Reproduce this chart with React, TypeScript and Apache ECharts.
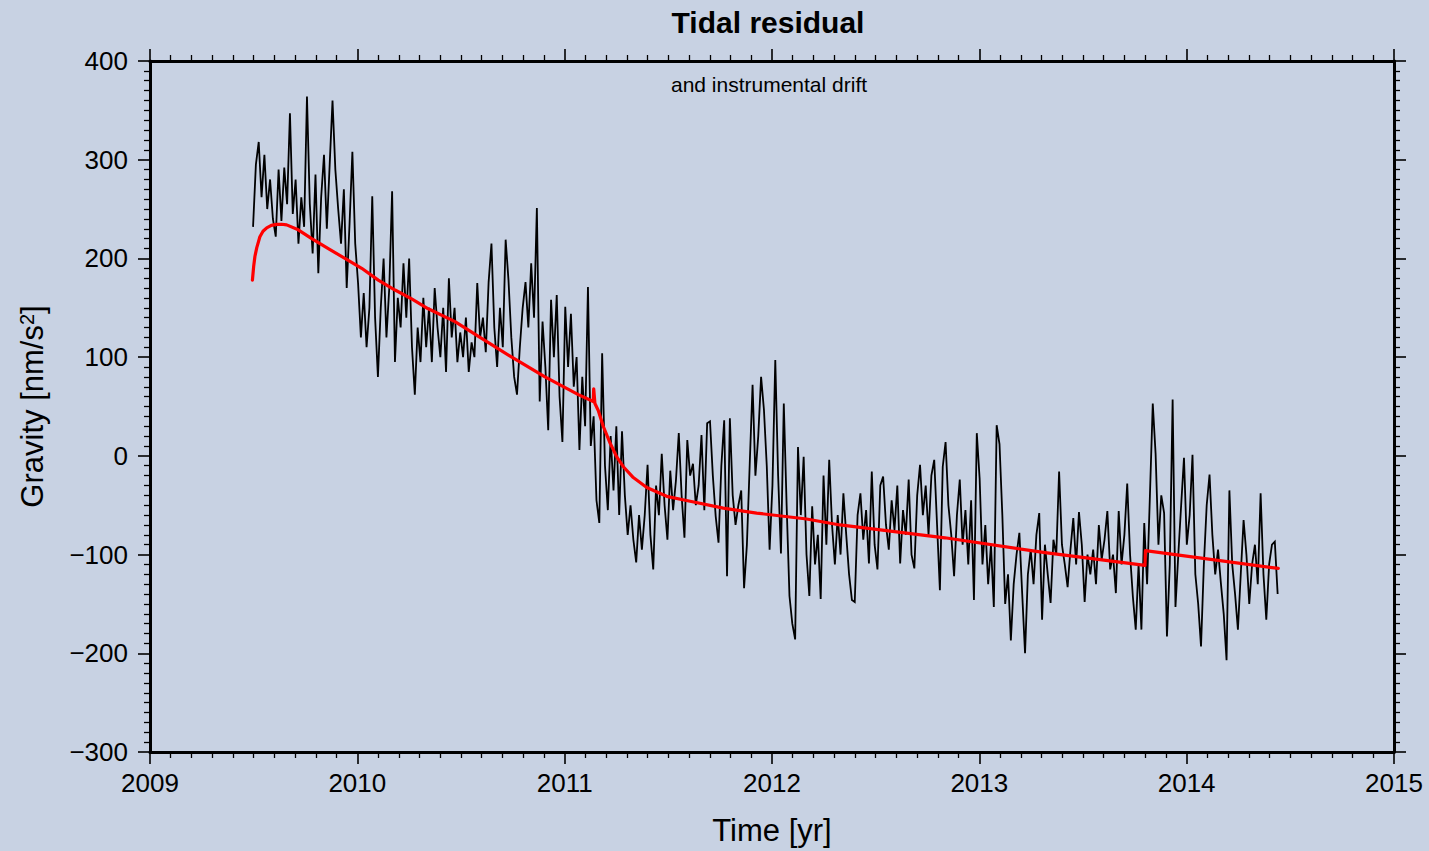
import React, { useEffect, useRef } from "react";
import * as echarts from "echarts";

// Residual gravity samples, one every 5 days starting mid-2009 (nm/s^2)
const FIRST_SAMPLE_YEAR = 2009.497;
const SAMPLE_STEP_DAYS = 5;

const residual2009 = [
  232, 295, 318, 262, 305, 250, 280, 240, 222, 290,
  238, 292, 255, 347, 245, 280, 215, 262, 232, 364,
  255, 205, 285, 185, 262, 305, 230, 295, 360, 290,
  250, 215, 270, 170, 235, 308, 215, 175, 120, 165,
  110, 150, 263, 140, 80, 150, 200, 120, 170, 268,
  95, 160, 130, 195, 140, 200, 110, 62, 130, 95,
  160, 110, 150, 95, 170, 130, 100, 150, 85, 180,
  120, 150,
];

const residual2010 = [
  95, 125, 100, 140, 85, 115, 100, 175, 120, 140,
  105, 176, 215, 130, 90, 150, 110, 219, 178, 120,
  80, 62, 110, 150, 176, 130, 195, 140, 251, 55,
  136, 90, 26, 158, 100, 163, 60, 14, 151, 90,
  144, 70, 100, 6, 80, 30, 171, 10, 40, -45,
  -68, 104, -10, -55, 20, -35, 30, -60, 25, -40,
  -80, -50, -85, -108, -60, -95, -60, -9, -80,
];

const residual2011 = [
  -115, -30, -60, 2, -50, -85, -15, -55, -25, 23,
  -40, -83, 16, -20, -8, -50, -30, 21, -55, 33,
  35, -20, -61, -88, -10, 36, -122, 38, -40, -70,
  -50, -35, -134, -90, -8, 72, -20, 20, 80, 47,
  -10, -95, -30, 97, -20, -99, 53, -50, -142, -170,
  -186, 9, -60, -1, -100, -142, -51, -110, -80, -145,
  -20, -90, -4, -70, -110, -60, -100, -38, -80, -120,
  -146,
];

const residual2012 = [
  -148, -60, -38, -85, -55, -109, -16, -90, -115, -30,
  -21, -70, -95, -45, -75, -30, -109, -55, -80, -24,
  -100, -114, -40, -9, -60, -30, -80, -20, -4, -70,
  -136, -11, 14, -50, -80, -122, -60, -24, -90, -55,
  -110, -45, -146, 23, -23, -110, -70, -130, -90, -153,
  31, 12, -60, -150, -120, -187, -130, -100, -78, -140,
  -200, -120, -95, -130, -80, -58, -166, -90, -120,
];

const residual2013 = [
  -149, -85, -100, -16, -90, -110, -133, -95, -63, -110,
  -57, -90, -148, -100, -120, -95, -130, -70, -105, -85,
  -56, -115, -100, -139, -56, -110, -80, -28, -100, -143,
  -176, -110, -176, -68, -130, -40, 53, 2, -90, -40,
  -58, -183, -110, 57, -153, -100, -50, -2, -90, -60,
  1, -120, -150, -193, -110, -50, -19, -80, -120, -95,
  -129, -160, -207, -35, -110, -140, -176, -120, -65, -100,
  -150, -110, -90, -130, -38, -120, -166, -110, -90, -87,
  -140,
];

// Fitted instrumental drift model
const driftYears = [
  2009.494, 2009.5, 2009.506, 2009.515, 2009.53, 2009.545, 2009.563, 2009.585,
  2009.611, 2009.635, 2009.659, 2009.715, 2009.78, 2009.86, 2009.94, 2010.021,
  2010.101, 2010.182, 2010.262, 2010.342, 2010.471, 2010.584, 2010.745, 2010.905,
  2011.066, 2011.138, 2011.14, 2011.146, 2011.162, 2011.186, 2011.219, 2011.251,
  2011.283, 2011.331, 2011.396, 2011.492, 2011.605, 2011.765, 2011.926, 2012.167,
  2012.328, 2012.834, 2013.317, 2013.799, 2013.801, 2014.442,
];
const driftValues = [
  178, 192, 202, 211, 222, 227.5, 231, 233.5,
  234.5, 234.6, 234, 229, 220, 210, 200, 190,
  178, 168, 159, 149, 136, 121, 100, 80,
  62, 55, 68, 53, 46, 30, 13, -1,
  -11, -22, -32, -41, -46, -53, -58, -64,
  -70, -83, -98, -111, -96, -114,
];

const FONT = '"Liberation Sans", Arial, Helvetica, sans-serif';
const BG = "#c8d2e3";

export default function App() {
  const ref = useRef<HTMLDivElement>(null);

  useEffect(() => {
    if (!ref.current) return;
    const chart = echarts.init(ref.current, null, { renderer: "svg" });

    const residual = [
      ...residual2009,
      ...residual2010,
      ...residual2011,
      ...residual2012,
      ...residual2013,
    ];
    const residualData = residual.map((v, i) => [
      FIRST_SAMPLE_YEAR + (i * SAMPLE_STEP_DAYS) / 365.25,
      v,
    ]);
    const driftData = driftYears.map((t, i) => [t, driftValues[i]]);

    const frameLine = { show: true, onZero: false, lineStyle: { color: "#000", width: 3 } };
    const majorTick = { show: true, inside: false, length: 12, lineStyle: { color: "#000", width: 1.6 } };
    const minorTick = { show: true, splitNumber: 10, length: 6, lineStyle: { color: "#000", width: 1.3 } };
    const tickLabel = { color: "#000", fontSize: 26, fontFamily: FONT };

    chart.setOption({
      animation: false,
      backgroundColor: BG,
      textStyle: { fontFamily: FONT },
      grid: { left: 150, right: 35, top: 61, bottom: 99 },
      graphic: [
        {
          type: "text",
          x: 768,
          y: 22,
          style: {
            text: "Tidal residual",
            fill: "#000",
            fontSize: 30,
            fontWeight: "bold",
            fontFamily: FONT,
            align: "center",
            verticalAlign: "middle",
          },
        },
        {
          type: "text",
          x: 769,
          y: 84,
          style: {
            text: "and instrumental drift",
            fill: "#000",
            fontSize: 21,
            fontFamily: FONT,
            align: "center",
            verticalAlign: "middle",
          },
        },
      ],
      xAxis: [
        {
          type: "value",
          position: "bottom",
          min: 2009,
          max: 2015,
          interval: 1,
          axisLine: frameLine,
          axisTick: majorTick,
          minorTick,
          splitLine: { show: false },
          axisLabel: { ...tickLabel, margin: 18, formatter: (v: number) => String(Math.round(v)) },
          name: "Time [yr]",
          nameLocation: "middle",
          nameGap: 63,
          nameTextStyle: { color: "#000", fontSize: 31, fontFamily: FONT },
        },
        {
          type: "value",
          position: "top",
          min: 2009,
          max: 2015,
          interval: 1,
          axisLine: frameLine,
          axisTick: majorTick,
          minorTick,
          splitLine: { show: false },
          axisLabel: { show: false },
        },
      ],
      yAxis: [
        {
          type: "value",
          position: "left",
          min: -300,
          max: 400,
          interval: 100,
          axisLine: frameLine,
          axisTick: majorTick,
          minorTick,
          splitLine: { show: false },
          axisLabel: {
            ...tickLabel,
            margin: 22,
            formatter: (v: number) => (v < 0 ? "\u2212" + Math.abs(v) : String(v)),
          },
          name: "Gravity [nm/s{sup|2}]",
          nameLocation: "middle",
          nameRotate: 90,
          nameGap: 102,
          nameTextStyle: {
            color: "#000",
            fontSize: 31,
            fontFamily: FONT,
            rich: {
              sup: {
                color: "#000",
                fontSize: 20,
                fontFamily: FONT,
                verticalAlign: "top",
                padding: [0, 0, 0, 0],
                lineHeight: 20,
              },
            },
          },
        },
        {
          type: "value",
          position: "right",
          min: -300,
          max: 400,
          interval: 100,
          axisLine: frameLine,
          axisTick: majorTick,
          minorTick,
          splitLine: { show: false },
          axisLabel: { show: false },
        },
      ],
      series: [
        {
          type: "line",
          name: "Tidal residual",
          xAxisIndex: 0,
          yAxisIndex: 0,
          data: residualData,
          showSymbol: false,
          symbol: "none",
          lineStyle: { color: "#000", width: 1.8, join: "miter" },
          z: 2,
        },
        {
          type: "line",
          name: "Instrumental drift",
          xAxisIndex: 0,
          yAxisIndex: 0,
          data: driftData,
          showSymbol: false,
          symbol: "none",
          lineStyle: { color: "#ff0000", width: 3.2, join: "round", cap: "round" },
          z: 3,
        },
      ],
    });

    return () => chart.dispose();
  }, []);

  return (
    <div
      ref={ref}
      style={{ position: "absolute", left: 0, top: 0, width: 1429, height: 851 }}
    />
  );
}
